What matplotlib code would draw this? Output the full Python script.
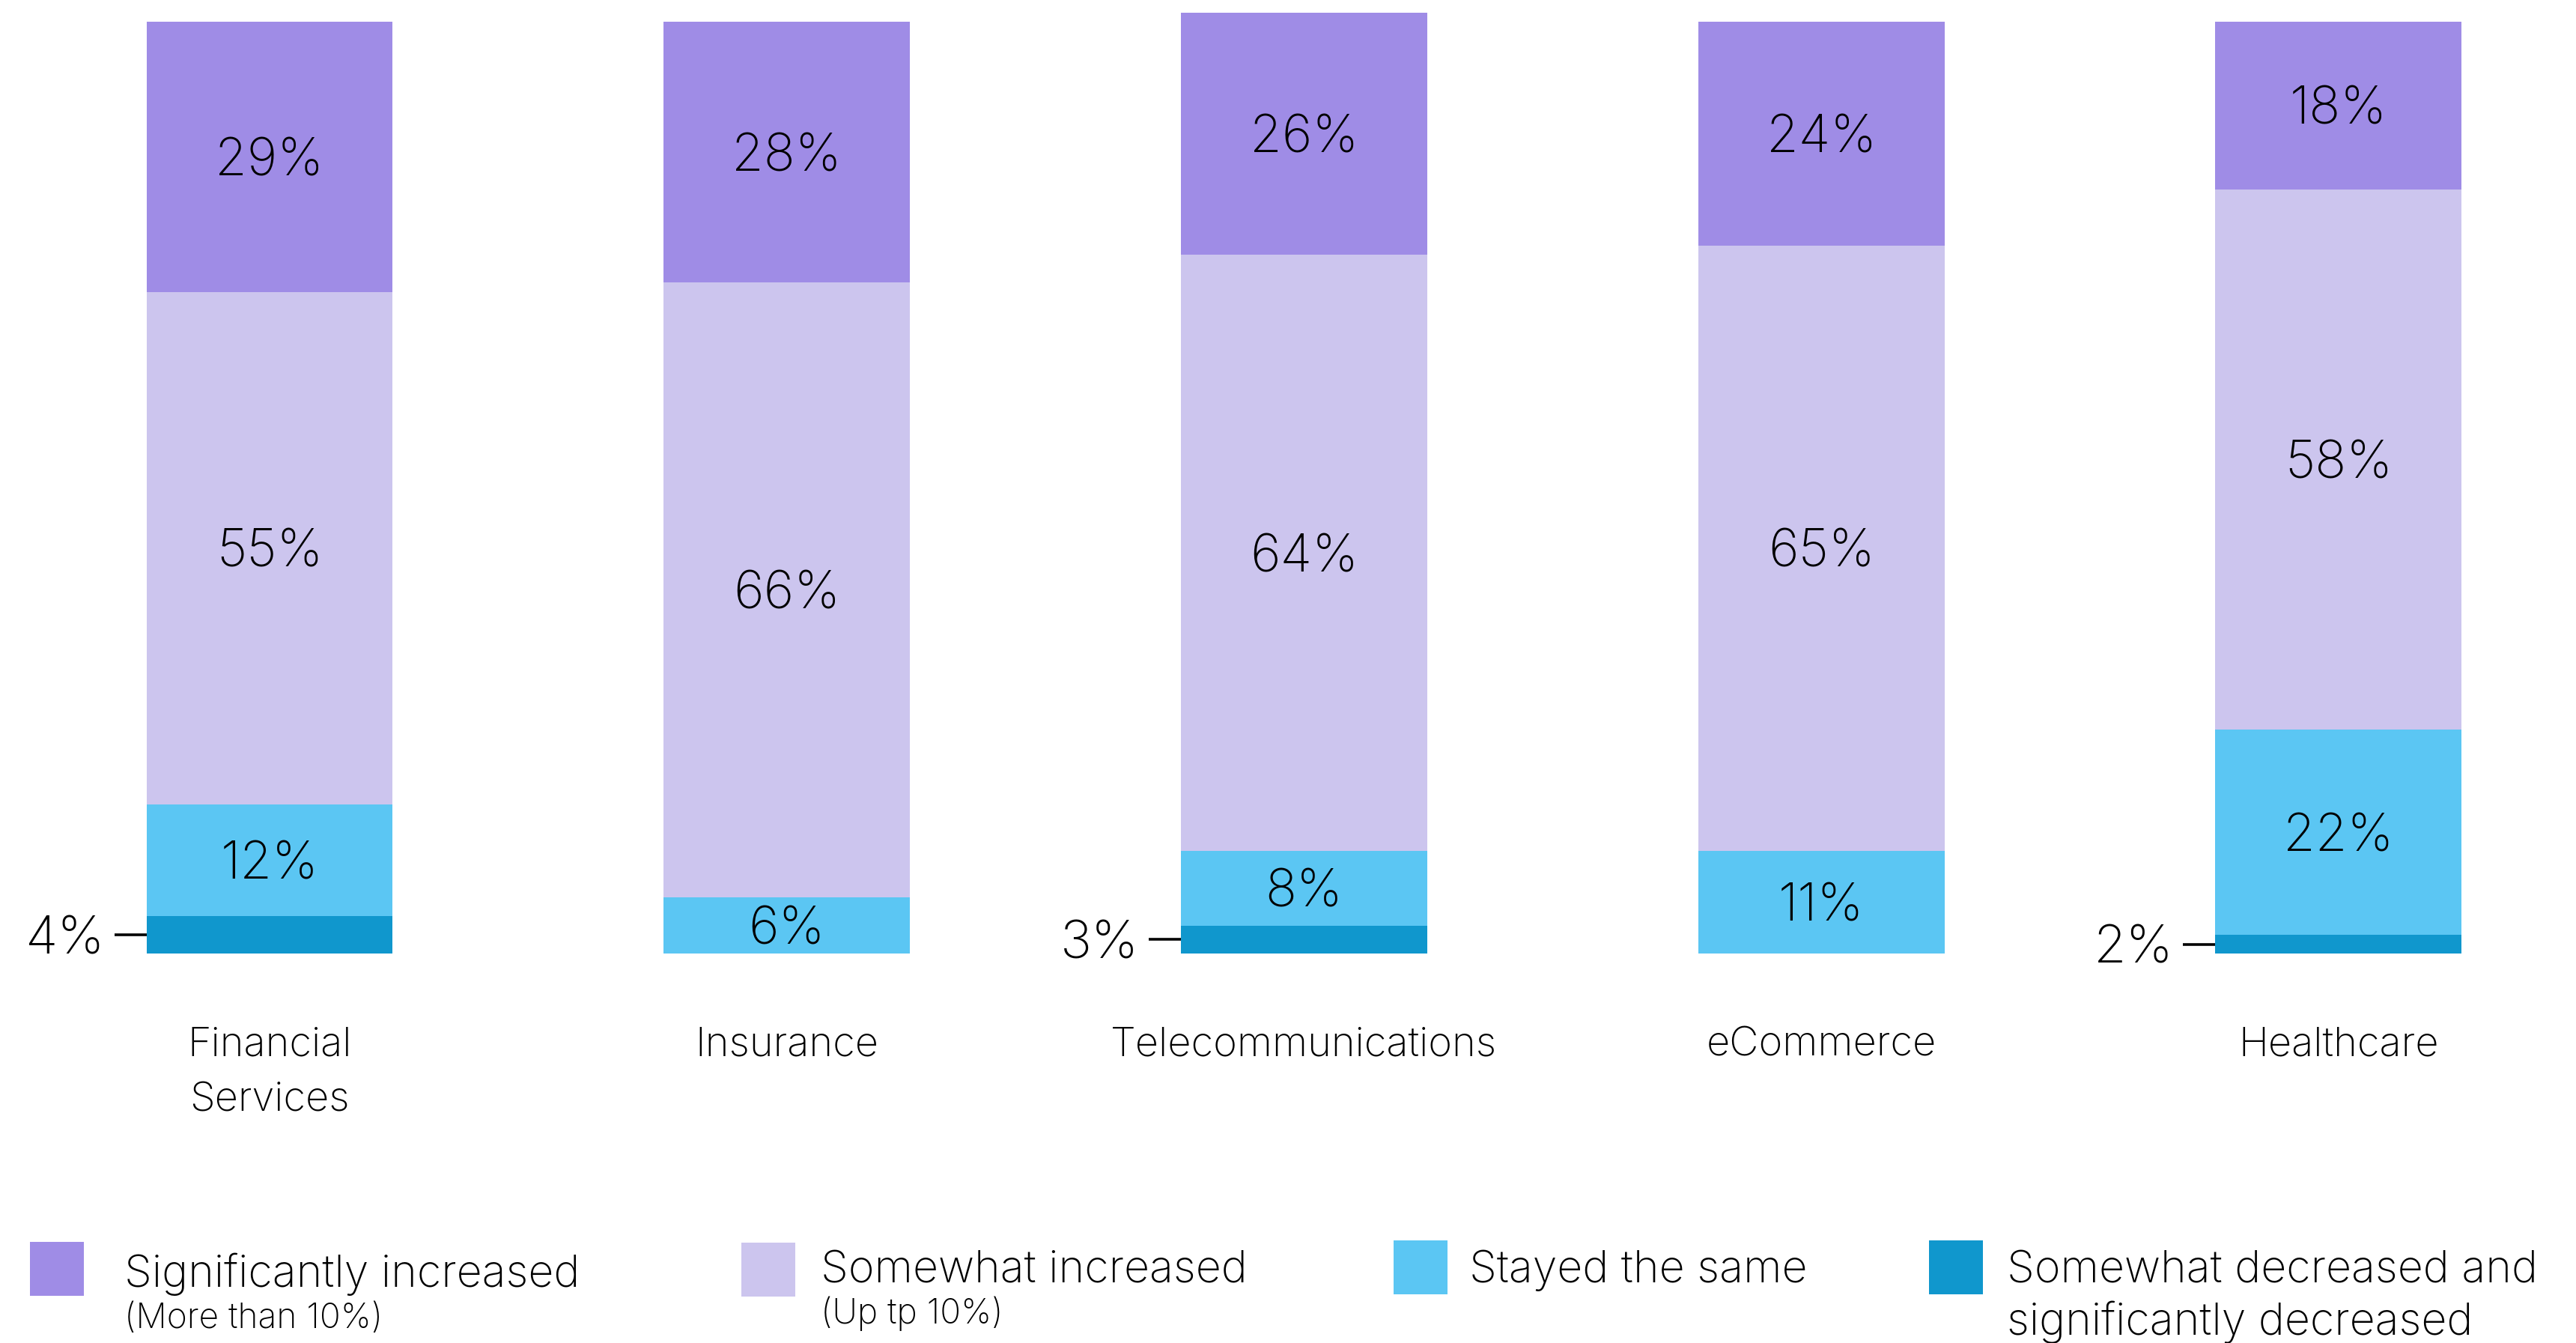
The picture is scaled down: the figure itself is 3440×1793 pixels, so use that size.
import matplotlib
matplotlib.use("Agg")
import matplotlib.pyplot as plt
from matplotlib.patches import Rectangle

plt.rcParams["font.family"] = ["Inter", "DejaVu Sans"]
plt.rcParams["font.weight"] = "light"

# ---- data -------------------------------------------------------------
categories = ["Financial\nServices", "Insurance", "Telecommunications",
              "eCommerce", "Healthcare"]
decreased = [4, 0, 3, 0, 2]
stayed = [12, 6, 8, 11, 22]
somewhat_inc = [55, 66, 64, 65, 58]
significant_inc = [29, 28, 26, 24, 18]

legend_titles = ["Significantly increased", "Somewhat increased",
                 "Stayed the same", "Somewhat decreased and\nsignificantly decreased"]
legend_notes = ["(More than 10%)", "(Up tp 10%)", "", ""]

# ---- styling ----------------------------------------------------------
W, H, DPI = 3441, 1793, 200
PT = 72.0 / DPI                       # points per pixel
C_SIG = "#9F8CE6"
C_SOME = "#CCC5EE"
C_SAME = "#5BC6F3"
C_DEC = "#1097CD"
TXT = "#000000"

fig = plt.figure(figsize=(W / DPI, H / DPI), dpi=DPI)
fig.patch.set_facecolor("white")

# axes: baseline at y=1273 px, 100 % spans 1244 px; bar pitch 690.75 px
base_px, full_px, pitch = 1273, 1244, 690.75
ymax = 103
ax = fig.add_axes([0, (H - base_px) / H, 1, full_px * ymax / 100 / H])
xmin = -360 / pitch
xmax = xmin + W / pitch
ax.set_xlim(xmin, xmax)
ax.set_ylim(0, ymax)
ax.axis("off")

bar_w = 329 / pitch
x = list(range(len(categories)))
stack = [(decreased, C_DEC), (stayed, C_SAME),
         (somewhat_inc, C_SOME), (significant_inc, C_SIG)]

bottoms = [0.0] * len(categories)
for k, (vals, col) in enumerate(stack):
    ax.bar(x, vals, width=bar_w, bottom=bottoms, color=col, linewidth=0)
    for i, v in enumerate(vals):
        if v <= 0:
            continue
        yc = bottoms[i] + v / 2
        if k == 0:
            # small segment: label on the left with a short leader line
            left = i - bar_w / 2
            ax.plot([left - 43 / pitch, left], [yc, yc], color=TXT, lw=1.3,
                    solid_capstyle="butt")
            ax.annotate(f"{v}%", xy=(left - 56 / pitch, yc),
                        xytext=(0, -25 * PT), textcoords="offset points",
                        ha="right", va="baseline", fontsize=25.5, color=TXT)
        else:
            ax.annotate(f"{v}%", xy=(i, yc), xytext=(0, -25 * PT),
                        textcoords="offset points", ha="center",
                        va="baseline", fontsize=25, color=TXT)
    bottoms = [b + v for b, v in zip(bottoms, vals)]

# category labels below the bars
for i, cat in enumerate(categories):
    for j, line in enumerate(cat.split("\n")):
        ax.annotate(line, xy=(i, 0), xytext=(0, -(137 + 73 * j) * PT),
                    textcoords="offset points", ha="center", va="baseline",
                    fontsize=19.5, color=TXT)

# ---- legend -----------------------------------------------------------
def fx(px):
    return px / W


def fy(py):
    return 1 - py / H


leg_colors = [C_SIG, C_SOME, C_SAME, C_DEC]
sq_x = [40, 990, 1861, 2576]
sq_y = [1658, 1659, 1656, 1656]
txt_x = [166, 1096, 1962, 2680]
base_y = [1718, 1712, 1712, 1712]
for n in range(4):
    fig.add_artist(Rectangle((fx(sq_x[n]), fy(sq_y[n] + 72)), 72 / W, 72 / H,
                             transform=fig.transFigure, facecolor=leg_colors[n],
                             edgecolor="none"))
    for j, line in enumerate(legend_titles[n].split("\n")):
        fig.text(fx(txt_x[n]), fy(base_y[n] + 70 * j), line, fontsize=21.3,
                 color=TXT, ha="left", va="baseline")
    if legend_notes[n]:
        fig.text(fx(txt_x[n]), fy(base_y[n] + 55), legend_notes[n], fontsize=16.6,
                 color=TXT, ha="left", va="baseline")

fig.savefig("out.png", dpi=DPI, facecolor="white")
